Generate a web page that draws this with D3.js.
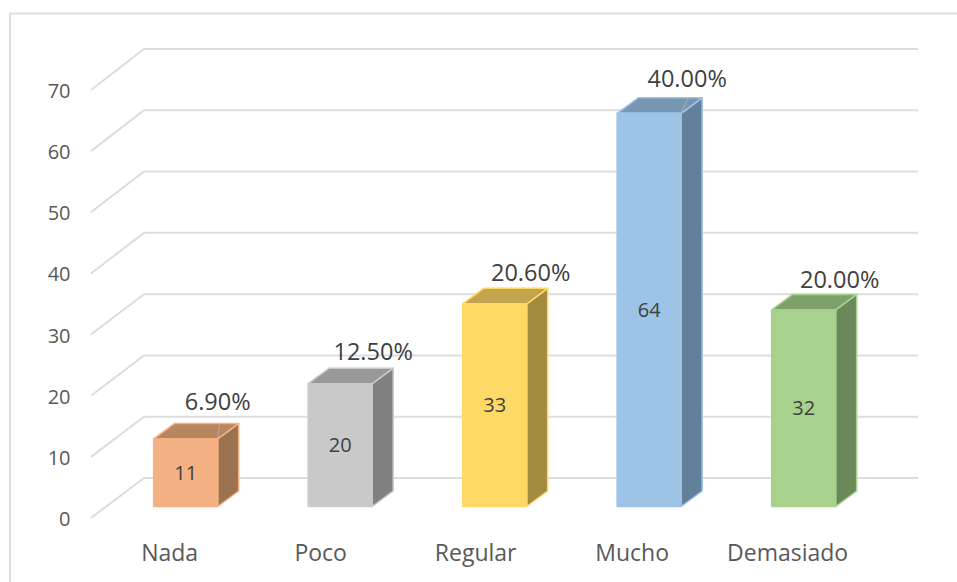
<!DOCTYPE html>
<html><head><meta charset="utf-8">
<script src="https://cdn.jsdelivr.net/npm/d3@7"></script>
<style>html,body{margin:0;padding:0;background:#fff;overflow:hidden}svg{display:block}text{font-family:"Open Sans",sans-serif}</style>
</head><body><svg id="c" width="957" height="582"></svg>
<script>
const categories=["Nada","Poco","Regular","Mucho","Demasiado"];
const values=[11,20,33,64,32];
const percents=["6.90%","12.50%","20.60%","40.00%","20.00%"];
const ticks=[0,10,20,30,40,50,60,70];
const fronts=["#F4B183","#C9C9C9","#FFD966","#9DC3E6","#A9D18E"];
const tops=["#B98660","#989898","#C1A44D","#7696B3","#80A06C"];
const sides=["#9C7350","#808080","#A38B40","#63809A","#6B8859"];
// layout nudges for the labels and leader lines, apart from the data
const pctDx=[32,33,36,38,36], pctDy=[-29,-24,-23,-26,-22], catDx=[-16,-19.5,-19,-17,-16], leaderDx=[2,null,null,7,null];
const svg=d3.select("#c");
svg.append("rect").attr("x",10).attr("y",13.5).attr("width",960).attr("height",590).attr("fill","#fff").attr("stroke","#DDDDDD").attr("stroke-width",2);
const yFront=d3.scaleLinear().domain([0,70]).range([518,90]);
const yBack=d3.scaleLinear().domain([0,70]).range([478,49]);
const yBar=d3.scaleLinear().domain([0,70]).range([506.5,76.5]);
const xWall=91,xBack=144,xEnd=918;
const grid=svg.append("g").attr("fill","none").attr("stroke","#DDDDDD").attr("stroke-width",2);
ticks.forEach(t=>{grid.append("path").attr("d",d3.line()([[xWall,yFront(t)],[xBack,yBack(t)],[xEnd,yBack(t)]]));});
svg.append("g").selectAll("text").data(ticks).join("text").attr("x",70.5).attr("y",d=>yFront(d)+8).attr("text-anchor","end").attr("font-size",20).attr("fill","#595959").text(d=>d);
const x=d3.scaleBand().domain(categories).range([107.35,882]).paddingInner(0.5858).paddingOuter(0.3);
const dx=21,dy=15.5;
categories.forEach((c,i)=>{
 const v=values[i],l=x(c),w=x.bandwidth(),r=l+w,t=yBar(v),b=yBar(0);
 const g=svg.append("g").attr("stroke",fronts[i]).attr("stroke-width",1.5).attr("stroke-linejoin","round");
 g.append("path").attr("fill",sides[i]).attr("d",d3.line()([[r,t],[r+dx,t-dy],[r+dx,b-dy],[r,b]])+"Z");
 g.append("path").attr("fill",tops[i]).attr("d",d3.line()([[l,t],[l+dx,t-dy],[r+dx,t-dy],[r,t]])+"Z");
 g.append("rect").attr("x",l).attr("y",t).attr("width",w).attr("height",b-t).attr("fill",fronts[i]);
 if(leaderDx[i]!==null) svg.append("path").attr("fill","none").attr("stroke","#A6A6A6").attr("stroke-width",1.2).attr("d",d3.line()([[r,t-1],[r+leaderDx[i],t-15]]));
 svg.append("text").attr("x",l+w/2).attr("y",(t+b)/2+7).attr("text-anchor","middle").attr("font-size",20).attr("fill","#404040").text(v);
 svg.append("text").attr("x",l+w/2+pctDx[i]).attr("y",t+pctDy[i]).attr("text-anchor","middle").attr("font-size",23.5).attr("fill","#404040").text(percents[i]);
 svg.append("text").attr("x",l+w/2+catDx[i]).attr("y",561).attr("text-anchor","middle").attr("font-size",23).attr("fill","#595959").text(c);
});
</script></body></html>
